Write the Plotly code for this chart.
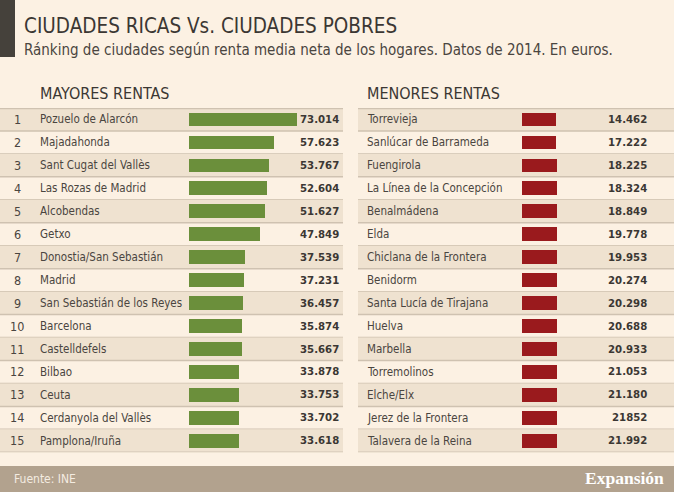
import plotly.graph_objects as go

# --- data -------------------------------------------------------------
ranks = list(range(1, 16))

rich_cities = [
    "Pozuelo de Alarcón", "Majadahonda", "Sant Cugat del Vallès", "Las Rozas de Madrid",
    "Alcobendas", "Getxo", "Donostia/San Sebastián", "Madrid",
    "San Sebastián de los Reyes", "Barcelona", "Castelldefels", "Bilbao",
    "Ceuta", "Cerdanyola del Vallès", "Pamplona/Iruña",
]
rich_income = [73014, 57623, 53767, 52604, 51627, 47849, 37539, 37231,
               36457, 35874, 35667, 33878, 33753, 33702, 33618]
rich_labels = ["73.014", "57.623", "53.767", "52.604", "51.627", "47.849", "37.539", "37.231",
               "36.457", "35.874", "35.667", "33.878", "33.753", "33.702", "33.618"]

poor_cities = [
    "Torrevieja", "Sanlúcar de Barrameda", "Fuengirola", "La Línea de la Concepción",
    "Benalmádena", "Elda", "Chiclana de la Frontera", "Benidorm",
    "Santa Lucía de Tirajana", "Huelva", "Marbella", "Torremolinos",
    "Elche/Elx", "Jerez de la Frontera", "Talavera de la Reina",
]
poor_income = [14462, 17222, 18225, 18324, 18849, 19778, 19953, 20274,
               20298, 20688, 20933, 21053, 21180, 21852, 21992]
poor_labels = ["14.462", "17.222", "18.225", "18.324", "18.849", "19.778", "19.953", "20.274",
               "20.298", "20.688", "20.933", "21.053", "21.180", "21852", "21.992"]

# --- style ------------------------------------------------------------
W, H = 674, 492
FONT = "DejaVu Sans Condensed, Roboto, sans-serif"
BG = "#fcf1e3"
ROW_DARK = "#efe2d0"
LINE = "#cfc2b1"
GREEN = "#6b8f3b"
RED = "#9a1a1d"
TXT = "#3b3733"
NAME_TXT = "#4a4540"
FOOT = "#b2a28e"


def px(x):
    return x / W


def py(y):
    return 1 - y / H


# right-hand bars in the original use an offset origin, so they look almost equal
RIGHT_BASE = -180000
left_max = (343 - 189) * 73014 / 108
right_max = RIGHT_BASE + (674 - 522) * (14462 - RIGHT_BASE) / 34

fig = go.Figure()

fig.add_trace(go.Bar(
    x=rich_income, y=ranks, orientation="h", width=0.6,
    marker=dict(color=GREEN, line=dict(width=0)),
    xaxis="x", yaxis="y", hoverinfo="skip",
))
fig.add_trace(go.Bar(
    x=[v - RIGHT_BASE for v in poor_income], y=ranks, base=RIGHT_BASE,
    orientation="h", width=0.6,
    marker=dict(color=RED, line=dict(width=0)),
    xaxis="x2", yaxis="y", hoverinfo="skip",
))

shapes = []
annotations = []

# header bar + footer band
shapes.append(dict(type="rect", xref="paper", yref="paper",
                   x0=0, x1=px(15), y0=py(57), y1=1,
                   fillcolor="#45413b", line=dict(width=0), layer="below"))
shapes.append(dict(type="rect", xref="paper", yref="paper",
                   x0=0, x1=1, y0=0, y1=py(466),
                   fillcolor=FOOT, line=dict(width=0), layer="below"))

tables = [(0, px(343)), (px(358), 1)]
for r in ranks:
    for x0, x1 in tables:
        if r % 2 == 1:
            shapes.append(dict(type="rect", xref="paper", yref="y",
                               x0=x0, x1=x1, y0=r - 0.5, y1=r + 0.5,
                               fillcolor=ROW_DARK, line=dict(width=0), layer="below"))
        shapes.append(dict(type="line", xref="paper", yref="y",
                           x0=x0, x1=x1, y0=r + 0.5, y1=r + 0.5,
                           line=dict(color=LINE, width=1.5), layer="below"))
for x0, x1 in tables:
    shapes.append(dict(type="line", xref="paper", yref="y",
                       x0=x0, x1=x1, y0=0.5, y1=0.5,
                       line=dict(color=LINE, width=2.5), layer="below"))

# table text
for r, name, lab in zip(ranks, rich_cities, rich_labels):
    annotations.append(dict(x=px(17), y=r, xref="paper", yref="y", text=str(r),
                            showarrow=False, xanchor="center",
                            font=dict(size=12.5, color=NAME_TXT, family=FONT)))
    annotations.append(dict(x=px(38), y=r, xref="paper", yref="y", text=name,
                            showarrow=False, xanchor="left",
                            font=dict(size=11.5, color=NAME_TXT, family=FONT)))
    annotations.append(dict(x=px(341), y=r, xref="paper", yref="y", text="<b>" + lab + "</b>",
                            showarrow=False, xanchor="right",
                            font=dict(size=11.3, color=TXT, family=FONT)))
for r, name, lab in zip(ranks, poor_cities, poor_labels):
    annotations.append(dict(x=px(365), y=r, xref="paper", yref="y", text=name,
                            showarrow=False, xanchor="left",
                            font=dict(size=11.5, color=NAME_TXT, family=FONT)))
    annotations.append(dict(x=px(649), y=r, xref="paper", yref="y", text="<b>" + lab + "</b>",
                            showarrow=False, xanchor="right",
                            font=dict(size=11.3, color=TXT, family=FONT)))

# titles
annotations += [
    dict(x=px(22), y=py(26), xref="paper", yref="paper", text="CIUDADES RICAS Vs. CIUDADES POBRES",
         showarrow=False, xanchor="left", yanchor="middle",
         font=dict(size=20.5, color=TXT, family=FONT)),
    dict(x=px(22), y=py(50), xref="paper", yref="paper",
         text="Ránking de ciudades según renta media neta de los hogares. Datos de 2014. En euros.",
         showarrow=False, xanchor="left", yanchor="middle",
         font=dict(size=15, color=NAME_TXT, family=FONT)),
    dict(x=px(38), y=py(94), xref="paper", yref="paper", text="MAYORES RENTAS",
         showarrow=False, xanchor="left", yanchor="middle",
         font=dict(size=16, color=TXT, family=FONT)),
    dict(x=px(365), y=py(94), xref="paper", yref="paper", text="MENORES RENTAS",
         showarrow=False, xanchor="left", yanchor="middle",
         font=dict(size=16, color=TXT, family=FONT)),
    dict(x=px(12), y=py(479), xref="paper", yref="paper", text="Fuente: INE",
         showarrow=False, xanchor="left", yanchor="middle",
         font=dict(size=12, color="#f4ece1", family=FONT)),
    dict(x=px(666), y=py(478), xref="paper", yref="paper", text="<b>Expansión</b>",
         showarrow=False, xanchor="right", yanchor="middle",
         font=dict(size=17.5, color="#ffffff", family="Liberation Serif, DejaVu Serif, serif")),
]

fig.update_layout(
    width=W, height=H,
    margin=dict(l=0, r=0, t=0, b=0),
    paper_bgcolor=BG, plot_bgcolor="rgba(0,0,0,0)",
    showlegend=False, bargap=0,
    xaxis=dict(domain=[px(189), px(343)], range=[0, left_max], visible=False, fixedrange=True),
    xaxis2=dict(domain=[px(522), 1], range=[RIGHT_BASE, right_max], visible=False,
                anchor="y", fixedrange=True),
    yaxis=dict(domain=[py(452.3), py(108)], range=[15.5, 0.5], visible=False, fixedrange=True),
    shapes=shapes,
    annotations=annotations,
)

# drop the browser's default body margin so the chart sits at the page corner
fig.write_html("out.html", config={"displayModeBar": False},
               post_script="document.body.style.margin='0';")
